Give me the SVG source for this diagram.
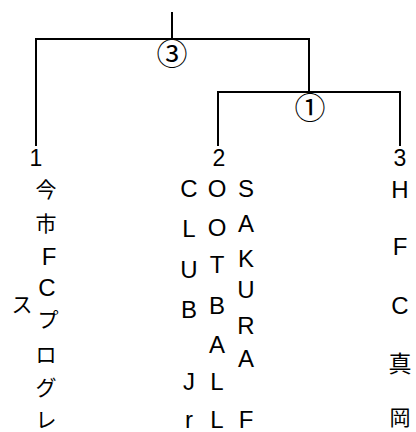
<svg xmlns="http://www.w3.org/2000/svg" width="416" height="432" viewBox="0 0 416 432">
<style>
.ln{stroke:#000;stroke-width:2;fill:none}
text{font-family:"Liberation Sans","Noto Sans CJK JP",sans-serif;fill:#000;text-anchor:middle;dominant-baseline:central}
.d{font-size:23px}
.l{font-size:24px}
.j{font-size:21px;font-family:"Noto Sans CJK JP",sans-serif}
.k{font-size:23px;font-family:"Noto Sans CJK JP",sans-serif}
.c{font-size:31px;font-family:"Noto Sans CJK JP",sans-serif}
</style>
<rect width="416" height="432" fill="#fff"/>
<g id="connectors">
<path class="ln" d="M172 12V39M36 146V39H309V92M218 146V92H400V146"/>
<text class="c" x="172" y="51">③</text>
<text class="c" x="310" y="105">①</text>
</g>
<g id="node1">
<text class="d" x="36" y="158">1</text>
<text class="j" x="46" y="188">今</text>
<text class="j" x="46" y="222">市</text>
<text class="l" x="49" y="256">F</text>
<text class="l" x="47" y="287">C</text>
<text class="j" x="22" y="303">ス</text>
<text class="j" x="48" y="318">プ</text>
<text class="j" x="46" y="353">ロ</text>
<text class="j" x="46" y="386">グ</text>
<text class="j" x="46" y="418">レ</text>
</g>
<g id="node2">
<text class="d" x="219" y="158">2</text>
<text class="l" x="189" y="188">C</text>
<text class="l" x="189" y="228">L</text>
<text class="l" x="189" y="269">U</text>
<text class="l" x="189" y="309">B</text>
<text class="l" x="189" y="381">J</text>
<text class="l" x="189" y="419">r</text>
<text class="l" x="217" y="188">O</text>
<text class="l" x="217" y="227">O</text>
<text class="l" x="217" y="264">T</text>
<text class="l" x="217" y="305">B</text>
<text class="l" x="217" y="344">A</text>
<text class="l" x="217" y="381">L</text>
<text class="l" x="217" y="419">L</text>
<text class="l" x="246" y="188">S</text>
<text class="l" x="246" y="223">A</text>
<text class="l" x="246" y="258">K</text>
<text class="l" x="246" y="289">U</text>
<text class="l" x="246" y="325">R</text>
<text class="l" x="246" y="358">A</text>
<text class="l" x="246" y="419">F</text>
</g>
<g id="node3">
<text class="d" x="400" y="158">3</text>
<text class="l" x="400" y="189">H</text>
<text class="l" x="400" y="246">F</text>
<text class="l" x="400" y="305">C</text>
<text class="k" x="400" y="362">真</text>
<text class="j" x="400" y="416">岡</text>
</g>
</svg>
